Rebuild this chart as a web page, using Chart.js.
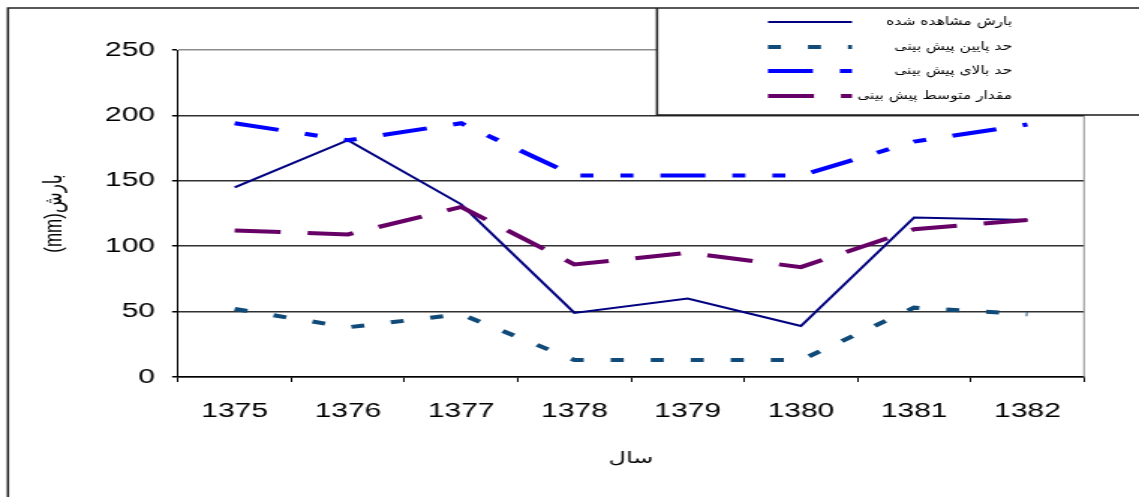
<!DOCTYPE html>
<html>
<head>
<meta charset="utf-8">
<script src="https://cdn.jsdelivr.net/npm/chart.js@4.4.0/dist/chart.umd.min.js"></script>
<style>
  html, body { margin: 0; padding: 0; background: #fff; overflow: hidden; }
  #wrap { width: 1139px; height: 497px; overflow: hidden; }
  /* the chart is laid out on a narrower canvas and widened horizontally */
  #c { display: block; transform-origin: 0 0; transform: scaleX(1.49868); }
</style>
</head>
<body>
<div id="wrap"><canvas id="c" width="760" height="497"></canvas></div>
<script>
// years (Persian calendar)
const years = ['1375', '1376', '1377', '1378', '1379', '1380', '1381', '1382'];

// rainfall, mm
const observed     = [145, 181, 132, 49, 60, 39, 122, 120];
const lowerBound   = [52, 38, 48, 13, 13, 13, 53, 48];
const upperBound   = [194, 181, 194, 154, 154, 154, 180, 193];
const meanForecast = [112, 109, 130, 86, 95, 84, 113, 120];

const yTicks = [0, 50, 100, 150, 200, 250];

const seriesNames = [
  'بارش مشاهده شده',
  'حد پایین پیش بینی',
  'حد بالای پیش بینی',
  'مقدار متوسط پیش بینی'
];
const xTitle = 'سال';
const yTitle = '(mm)بارش';

Chart.defaults.font.family = '"Liberation Sans", "DejaVu Sans", sans-serif';
Chart.defaults.color = '#000';

// frame, plot border and the boxed legend in the top-right corner
const decorations = {
  id: 'decorations',
  beforeDraw(chart) {
    const ctx = chart.ctx;
    ctx.save();
    ctx.fillStyle = '#fff';
    ctx.fillRect(0, 0, chart.width, chart.height);
    ctx.restore();
  },
  afterDraw(chart) {
    const ctx = chart.ctx;
    const ca = chart.chartArea;
    const W = chart.width;
    ctx.save();

    // right edge of the plot area
    ctx.strokeStyle = '#8c8c8c';
    ctx.lineWidth = 1;
    ctx.beginPath();
    ctx.moveTo(ca.right, ca.top);
    ctx.lineTo(ca.right, ca.bottom);
    ctx.stroke();

    // legend box
    const bx = 438.4, by = 8, bb = 115;
    ctx.fillStyle = '#fff';
    ctx.fillRect(bx, by, W - bx, bb - by);
    ctx.strokeStyle = '#1a1a1a';
    ctx.lineWidth = 1.5;
    ctx.beginPath();
    ctx.moveTo(bx, by);
    ctx.lineTo(bx, bb);
    ctx.lineTo(W, bb);
    ctx.stroke();

    const rows = [22, 47, 71, 96];
    chart.data.datasets.forEach((ds, i) => {
      const y = rows[i];
      ctx.setLineDash(ds.borderDash || []);
      ctx.lineDashOffset = 0;
      ctx.strokeStyle = ds.borderColor;
      ctx.lineWidth = ds.borderWidth;
      ctx.beginPath();
      ctx.moveTo(512.4, y);
      ctx.lineTo(568.5, y);
      ctx.stroke();
      ctx.setLineDash([]);
      ctx.fillStyle = '#000';
      ctx.font = '11.5px "DejaVu Sans Condensed", "DejaVu Sans"';
      ctx.direction = 'rtl';
      ctx.textAlign = 'right';
      ctx.textBaseline = 'middle';
      ctx.fillText(ds.label, 675.3, y);
    });

    // outer frame
    ctx.direction = 'ltr';
    ctx.strokeStyle = '#222';
    ctx.lineWidth = 1.5;
    ctx.beginPath();
    ctx.moveTo(5.3, chart.height);
    ctx.lineTo(5.3, 8);
    ctx.lineTo(W, 8);
    ctx.stroke();

    ctx.restore();
  }
};

new Chart(document.getElementById('c'), {
  type: 'line',
  data: {
    labels: years,
    datasets: [
      {
        label: seriesNames[0],
        data: observed,
        borderColor: '#000080',
        borderWidth: 2,
        order: 4
      },
      {
        label: seriesNames[1],
        data: lowerBound,
        borderColor: '#104a78',
        borderWidth: 4,
        borderDash: [8.7, 18],
        order: 3
      },
      {
        label: seriesNames[2],
        data: upperBound,
        borderColor: '#0000ff',
        borderWidth: 4,
        borderDash: [30, 18, 8.7, 18, 8.7, 18],
        order: 2
      },
      {
        label: seriesNames[3],
        data: meanForecast,
        borderColor: '#660066',
        borderWidth: 4,
        borderDash: [30.7, 18],
        order: 1
      }
    ]
  },
  options: {
    responsive: false,
    animation: false,
    devicePixelRatio: 1,
    layout: { padding: { left: 0, right: 36.7, top: 50, bottom: 0 } },
    elements: {
      line: { tension: 0, fill: false, borderCapStyle: 'butt' },
      point: { radius: 0, hoverRadius: 0 }
    },
    plugins: {
      legend: { display: false },
      tooltip: { enabled: false }
    },
    scales: {
      x: {
        type: 'category',
        offset: true,
        grid: {
          offset: true,
          drawOnChartArea: false,
          drawTicks: true,
          tickLength: 5,
          color: '#000',
          lineWidth: 1
        },
        border: { display: true, color: '#000', width: 1.5 },
        ticks: { font: { size: 20 }, color: '#000', padding: 17, maxRotation: 0 },
        title: {
          display: true,
          text: xTitle,
          font: { size: 16, family: '"DejaVu Sans"' },
          color: '#000',
          padding: { top: 0, bottom: 29 }
        },
        afterFit(scale) { scale.height = 120; }
      },
      y: {
        min: 0,
        max: 250,
        afterBuildTicks(scale) { scale.ticks = yTicks.map(v => ({ value: v })); },
        grid: {
          color: c => (c.tick && c.tick.value === 250 ? '#8c8c8c' : '#303030'),
          tickColor: '#000',
          lineWidth: 1.5,
          drawTicks: true,
          tickLength: 4
        },
        border: { display: true, color: '#000', width: 1 },
        ticks: { font: { size: 20 }, color: '#000', padding: 11.4 },
        title: {
          display: true,
          text: yTitle,
          font: { size: 17 },
          color: '#000',
          padding: { top: 26, bottom: 0 }
        },
        afterFit(scale) { scale.width = 118.8; }
      }
    }
  },
  plugins: [decorations]
});
</script>
</body>
</html>
